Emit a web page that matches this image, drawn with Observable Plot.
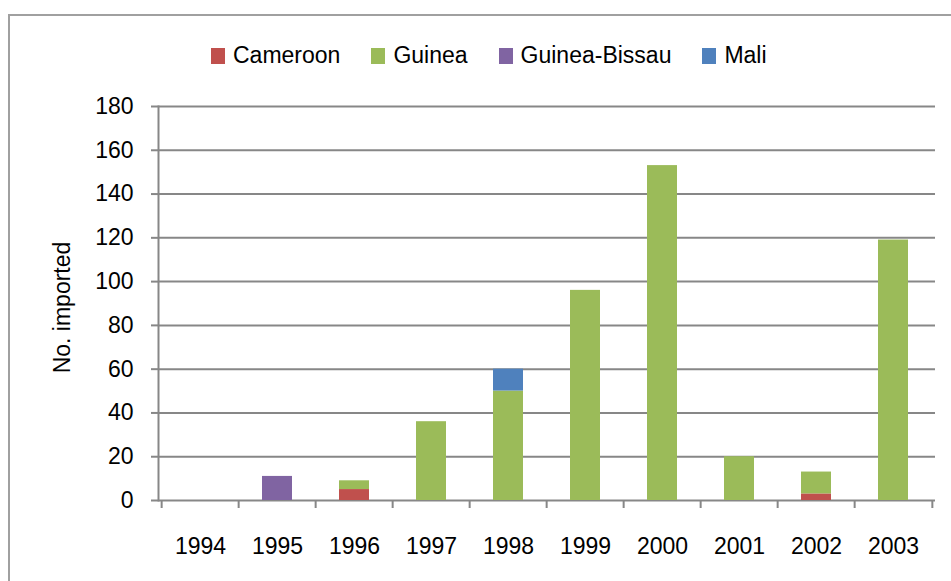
<!DOCTYPE html>
<html>
<head>
<meta charset="utf-8">
<script src="https://cdn.jsdelivr.net/npm/d3@7"></script>
<script src="https://cdn.jsdelivr.net/npm/@observablehq/plot@0.6"></script>
<style>
  html, body { margin: 0; padding: 0; background: #fff; }
  body { width: 951px; height: 581px; overflow: hidden; position: relative;
         font-family: "Liberation Sans", Arial, sans-serif; }
  #frame { position: absolute; left: 8px; top: 14px; width: 1000px; height: 700px;
           border: 2px solid #a0a0a0; box-sizing: border-box; }
  #chart { position: absolute; left: 0; top: 0; }
  #legend { position: absolute; left: 211px; top: 42px; display: flex; align-items: center;
            font-size: 23px; color: #000; white-space: nowrap; }
  .item { display: flex; align-items: center; margin-right: 31px; }
  .sw { width: 14px; height: 16px; margin-right: 8px; }
</style>
</head>
<body>
<div id="frame"></div>
<div id="chart"></div>
<div id="legend"></div>
<script>
const years = ["1994","1995","1996","1997","1998","1999","2000","2001","2002","2003"];
const countries = ["Cameroon","Guinea","Guinea-Bissau","Mali"];
const colors = ["#C0504D","#9BBB59","#8064A2","#4F81BD"];
const cameroon     = [0, 0, 5, 0,  0,  0,   0,  0,  3,   0];
const guinea       = [0, 0, 4, 36, 50, 96, 153, 20, 10, 119];
const guineaBissau = [0, 11, 0, 0,  0,  0,   0,  0,  0,   0];
const mali         = [0, 0, 0, 0,  10, 0,   0,  0,  0,   0];
const yTicks = [0, 20, 40, 60, 80, 100, 120, 140, 160, 180];
const yLabel = "No. imported";

const series = [cameroon, guinea, guineaBissau, mali];
const data = countries.flatMap((c, i) =>
  years.map((yr, j) => ({year: yr, country: c, value: series[i][j]}))
).filter(d => d.value > 0);

const W = 951, H = 581, mL = 158, mR = 16, mT = 106, mB = 81;
const step = (W - mL - mR) / years.length;
const grey = "#878787";

const chart = Plot.plot({
  width: W, height: H,
  marginLeft: mL, marginRight: mR, marginTop: mT, marginBottom: mB,
  style: {fontFamily: '"Liberation Sans", Arial, sans-serif', fontSize: "23px", color: "#000", background: "transparent"},
  x: {domain: years, paddingInner: 0.61, paddingOuter: 0.305, label: null},
  y: {domain: [0, 180], label: null},
  color: {domain: countries, range: colors},
  marks: [
    Plot.ruleY(yTicks, {stroke: grey, strokeWidth: 2}),
    Plot.barY(data, {x: "year", y: "value", fill: "country"}),
    Plot.frame({anchor: "left", stroke: grey, strokeWidth: 2}),
    Plot.axisY({ticks: yTicks, tickSize: 7, tickPadding: 18, stroke: grey, strokeWidth: 2, strokeOpacity: 1, fill: "#000", label: null}),
    Plot.axisX({tickSize: 0, tickPadding: 37, fill: "#000", label: null}),
    Plot.ruleX(years, {x: d => d, y1: 0, dx: -step / 2, insetBottom: -8, stroke: grey, strokeWidth: 2}),
    Plot.ruleX(years.slice(-1), {x: d => d, y1: 0, dx: step / 2, insetBottom: -8, stroke: grey, strokeWidth: 2}),
    Plot.text([yLabel], {text: d => d, frameAnchor: "left", textAnchor: "middle", rotate: -90, dx: -96, dy: 4, fill: "#000", fontSize: 23})
  ]
});
document.getElementById("chart").appendChild(chart);

const legend = document.getElementById("legend");
countries.forEach((c, i) => {
  const item = document.createElement("div");
  item.className = "item";
  const sw = document.createElement("div");
  sw.className = "sw";
  sw.style.background = colors[i];
  const t = document.createElement("span");
  t.textContent = c;
  item.appendChild(sw);
  item.appendChild(t);
  legend.appendChild(item);
});
</script>
</body>
</html>
